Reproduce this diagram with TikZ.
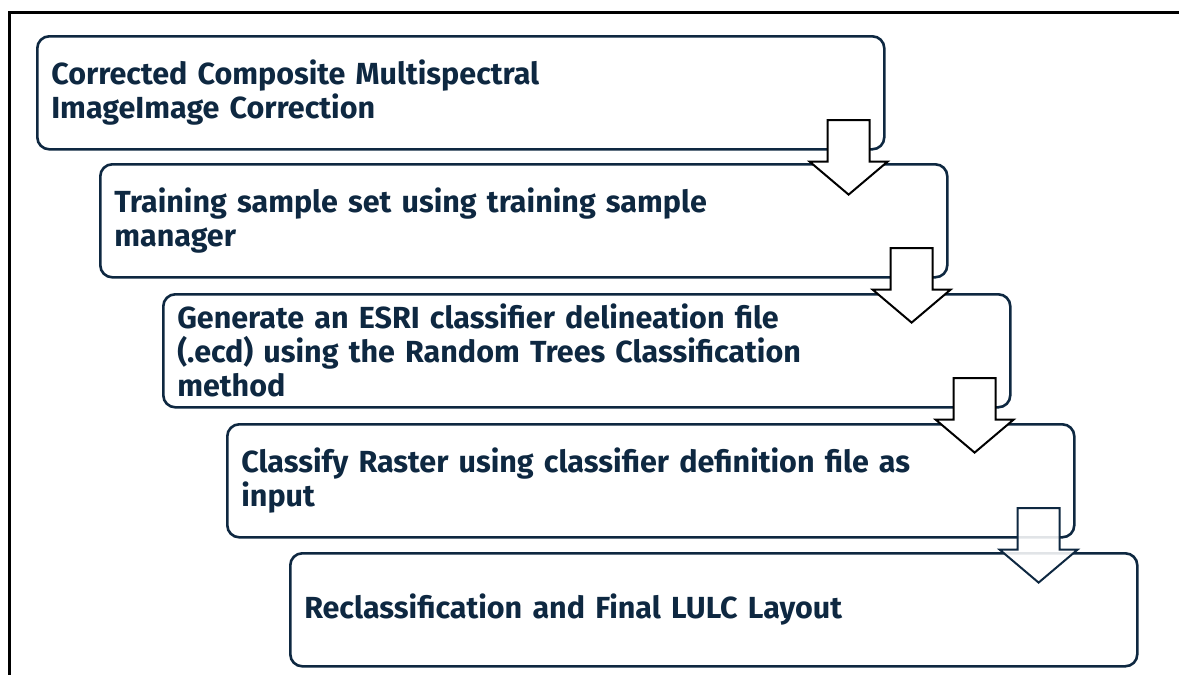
\documentclass[tikz,border=0pt]{standalone}
\usepackage{fontspec}
\setmainfont{Fira Sans}
\usetikzlibrary{calc}
\definecolor{navy}{HTML}{0E2841}

% block arrow from the lower right corner of one step down into the next
\newcommand\flowarrow[2][]{%
  \draw[blockarrow,#1] let \p1=(#2.south east) in
    (\x1-58pt,\y1+30.5pt) -- (\x1-16pt,\y1+30.5pt) -- (\x1-16pt,\y1-11pt)
    -- (\x1+2pt,\y1-11pt) -- (\x1-37pt,\y1-44pt) -- (\x1-76pt,\y1-11pt)
    -- (\x1-58pt,\y1-11pt) -- cycle;}

\begin{document}
\begin{tikzpicture}[x=1pt,y=-1pt,
  stepbox/.style={draw=navy, line width=2.6pt, rounded corners=12pt,
    minimum height=113pt, text width=819pt, inner xsep=14pt, inner ysep=0pt,
    align=left, text=navy, anchor=north west,
    font=\fontsize{30.5}{34}\selectfont\bfseries},
  blockarrow/.style={draw=black, line width=2pt, fill=white, line join=miter},
]
\useasboundingbox (0,0) rectangle (1179,675);

% outer frame
\draw[line width=3pt] (9,675) -- (9,12) -- (1179,12);

% process steps
\node[stepbox] (s1) at (36,35)  {Corrected Composite Multispectral\\ImageImage Correction};
\node[stepbox] (s2) at (99,163) {Training sample set using training sample\\manager};
\node[stepbox] (s3) at (162,293) {Generate an ESRI classifier delineation file\\(.ecd) using the Random Trees Classification\\method};
\node[stepbox] (s4) at (226,423) {Classify Raster using classifier definition file as\\input};
\node[stepbox] (s5) at (289,552) {Reclassification and Final LULC Layout};

% arrows between the steps
\flowarrow{s1}
\flowarrow{s2}
\flowarrow{s3}
\flowarrow[draw=navy, fill opacity=0.88]{s4}
\end{tikzpicture}
\end{document}
